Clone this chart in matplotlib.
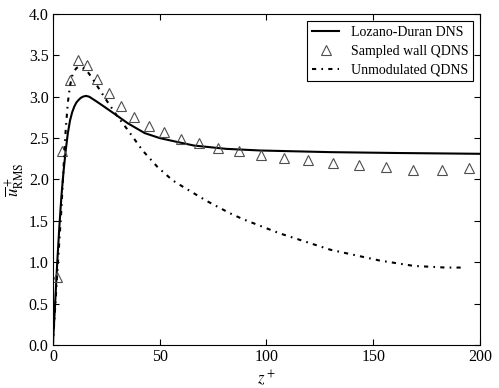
import matplotlib
matplotlib.use("Agg")
import matplotlib.pyplot as plt

plt.rcParams['font.family'] = ['Liberation Serif', 'DejaVu Serif']
plt.rcParams['mathtext.fontset'] = 'stix'
plt.rcParams['font.size'] = 11.5

# Lozano-Duran DNS
z_dns = [0, 1, 2, 3, 4, 5, 6, 7, 8, 9, 10, 11, 12, 13, 14, 15.5, 17, 20, 24, 29, 35,
         43, 50, 57, 66, 81, 97, 130, 160, 200]
u_dns = [0, 0.48, 0.98, 1.42, 1.8, 2.1, 2.35, 2.56, 2.71, 2.81, 2.88, 2.93, 2.96,
         2.985, 3.0, 3.01, 3.0, 2.95, 2.88, 2.79, 2.68, 2.56, 2.5, 2.46, 2.41, 2.37,
         2.35, 2.33, 2.32, 2.31]

# Sampled wall QDNS
z_qs = [2.0, 4.4, 8.0, 11.9, 16.2, 20.8, 26.1, 31.9, 37.8, 44.8, 52.0, 59.8, 68.4,
        77.4, 87.0, 97.3, 108.0, 119.3, 131.0, 143.3, 155.8, 168.8, 182.0, 195.0]
u_qs = [0.82, 2.34, 3.20, 3.44, 3.38, 3.21, 3.04, 2.89, 2.75, 2.65, 2.57, 2.49, 2.44,
        2.38, 2.34, 2.30, 2.26, 2.23, 2.20, 2.17, 2.15, 2.12, 2.115, 2.14]

# Unmodulated QDNS
z_un = [0, 2, 4, 5, 6, 7, 8, 9, 10, 11, 12, 13, 14, 16, 18, 20, 25, 30, 35, 42, 49,
        56, 61, 72, 83, 89, 106, 130, 153, 169, 184, 193]
u_un = [0, 0.85, 1.65, 2.15, 2.6, 2.93, 3.13, 3.25, 3.31, 3.345, 3.36, 3.36, 3.35,
        3.31, 3.24, 3.16, 2.96, 2.77, 2.60, 2.35, 2.15, 1.99, 1.91, 1.74, 1.59, 1.52,
        1.35, 1.15, 1.02, 0.955, 0.935, 0.935]

fig = plt.figure(figsize=(4.99, 3.88), dpi=100)
ax = fig.add_axes([0.106, 0.111, 0.856, 0.853])

ax.plot(z_dns, u_dns, '-', color='k', lw=1.5, label='Lozano-Duran DNS')
ax.plot(z_qs, u_qs, '^', mfc='none', mec='0.3', ms=7, mew=0.8, label='Sampled wall QDNS')
ax.plot(z_un, u_un, color='k', lw=1.5, ls=(0, (2, 2.5, 0.8, 2.5)), label='Unmodulated QDNS')

ax.set_xlim(0, 200)
ax.set_ylim(0, 4)
ax.set_xticks([0, 50, 100, 150, 200])
ax.set_yticks([0, 0.5, 1, 1.5, 2, 2.5, 3, 3.5, 4])
ax.set_yticklabels(['0.0', '0.5', '1.0', '1.5', '2.0', '2.5', '3.0', '3.5', '4.0'])
ax.tick_params(direction='in', top=True, right=True, length=4, width=0.8, pad=3)
ax.set_xlabel('$z^+$', fontsize=12, labelpad=2)
ax.set_ylabel(r'$\overline{u}^+_{\rm RMS}$', fontsize=12, labelpad=1)

leg = ax.legend(loc='upper right', numpoints=1, fancybox=False, framealpha=1,
                edgecolor='k', handlelength=2.0, labelspacing=0.42, fontsize=10,
                borderpad=0.35, handletextpad=0.8, borderaxespad=0.5)
leg.get_frame().set_linewidth(0.8)

fig.savefig('out.png', dpi=100)
